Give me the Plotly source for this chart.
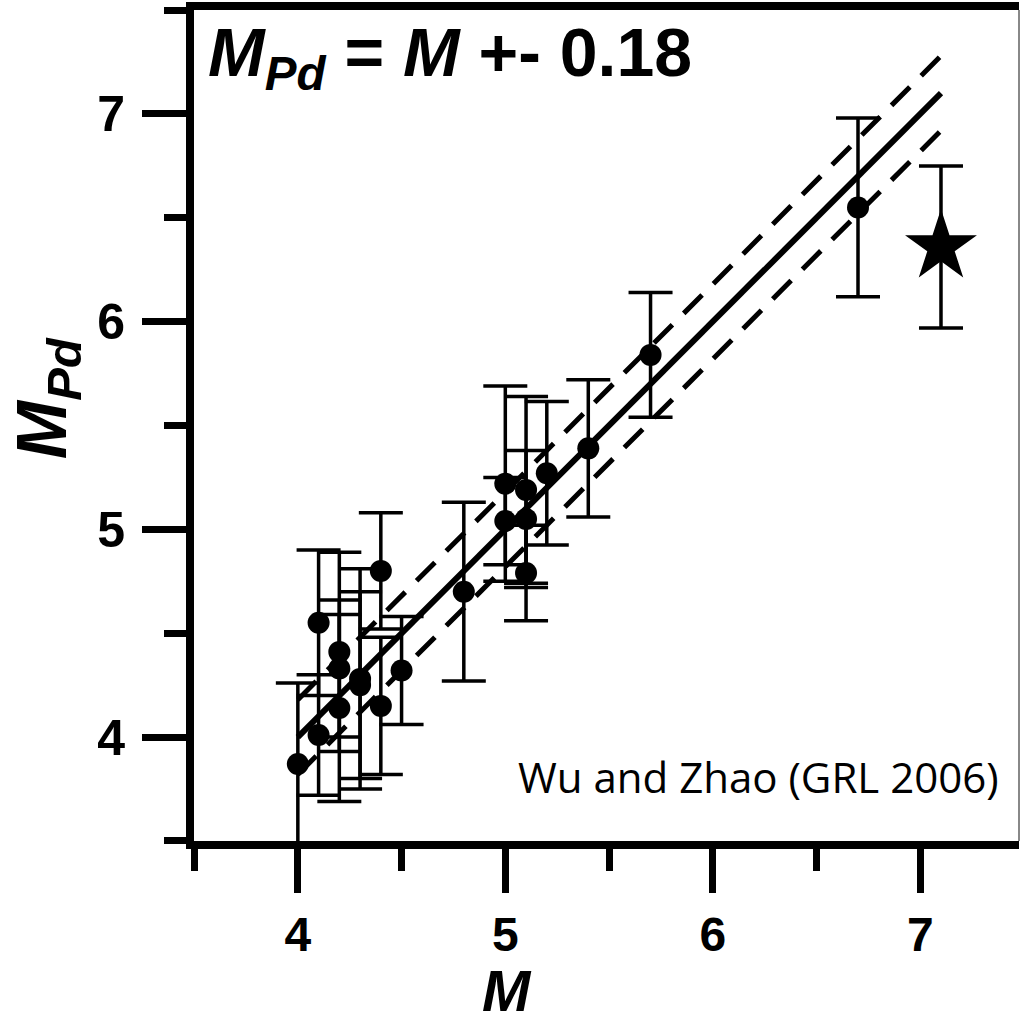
import plotly.graph_objects as go

# ---- data ----
M_obs = [4.0, 4.1, 4.1, 4.2, 4.2, 4.2, 4.3, 4.3, 4.4, 4.4, 4.5, 4.8,
         5.0, 5.0, 5.1, 5.1, 5.1, 5.2, 5.4, 5.7, 6.7]
Mpd_obs = [3.87, 4.55, 4.01, 4.41, 4.33, 4.14, 4.28, 4.25, 4.80, 4.15, 4.32, 4.70,
           5.22, 5.04, 5.19, 5.05, 4.79, 5.27, 5.39, 5.84, 6.55]
Mpd_err = [0.39, 0.35, 0.29, 0.48, 0.33, 0.45, 0.53, 0.45, 0.28, 0.33, 0.26, 0.43,
           0.47, 0.21, 0.45, 0.33, 0.23, 0.345, 0.33, 0.30, 0.43]

star_M = [7.1]
star_Mpd = [6.36]
star_err = [0.39]

line_M = [4.0, 7.1]
line_Mpd = [4.0, 7.1]
line_upper = [4.18, 7.28]
line_lower = [3.82, 6.92]

x_ticks = [4, 5, 6, 7]
y_ticks = [4, 5, 6, 7]

FONT = "Liberation Sans, Arial, sans-serif"

fig = go.Figure()

fig.add_trace(go.Scatter(x=line_M, y=line_Mpd, mode="lines",
                         line=dict(color="black", width=6), showlegend=False))
fig.add_trace(go.Scatter(x=line_M, y=line_upper, mode="lines",
                         line=dict(color="black", width=5, dash="26px,16px"), showlegend=False))
fig.add_trace(go.Scatter(x=line_M, y=line_lower, mode="lines",
                         line=dict(color="black", width=5, dash="26px,16px"), showlegend=False))

fig.add_trace(go.Scatter(
    x=M_obs, y=Mpd_obs, mode="markers",
    marker=dict(symbol="circle", size=22, color="black"),
    error_y=dict(type="data", array=Mpd_err, visible=True, color="black",
                 thickness=3.5, width=22),
    showlegend=False, cliponaxis=True))

fig.add_trace(go.Scatter(
    x=star_M, y=star_Mpd, mode="markers",
    marker=dict(symbol="star", size=54, color="black"),
    error_y=dict(type="data", array=star_err, visible=True, color="black",
                 thickness=3.5, width=22),
    showlegend=False))

axis_common = dict(
    showgrid=False, zeroline=False, showline=True, linecolor="black", linewidth=8,
    ticks="outside", ticklen=44, tickwidth=7, tickcolor="black",
    minor=dict(dtick=0.5, tick0=3.5, ticks="outside", ticklen=22, tickwidth=7,
               tickcolor="black", showgrid=False),
)

fig.update_layout(
    width=1022, height=1022, autosize=False,
    margin=dict(l=194, r=3, t=10, b=181, pad=0),
    plot_bgcolor="white", paper_bgcolor="white",
    xaxis=dict(range=[3.4995, 7.476], tickvals=x_ticks, mirror=True,
               tickfont=dict(family=FONT, size=48, color="black", weight="bold"),
               ticklabelstandoff=0, **axis_common),
    yaxis=dict(range=[3.4995, 7.5005], tickvals=y_ticks, mirror=False,
               tickfont=dict(family=FONT, size=50, color="black", weight="bold"),
               ticklabelstandoff=7, **axis_common),
    showlegend=False,
)

# thin right border
fig.add_shape(type="line", xref="paper", yref="paper", x0=1, x1=1, y0=0, y1=1,
              line=dict(color="#888888", width=2))

# axis titles
fig.add_annotation(text="<b><i>M</i></b>", xref="paper", yref="paper",
                   x=(507 - 194) / 825, y=(841 - 991) / 831, xanchor="center", yanchor="middle",
                   showarrow=False, font=dict(family=FONT, size=58, color="black"))
fig.add_annotation(text="<b><i>M<sub>Pd</sub></i></b>", xref="paper", yref="paper",
                   x=-0.178, y=(841 - 398) / 831, xanchor="center", yanchor="middle", textangle=-90,
                   showarrow=False, font=dict(family=FONT, size=70, color="black"))

# equation label
fig.add_annotation(text="<b><i>M</i><sub><i>Pd</i></sub> = <i>M</i> +- 0.18</b>",
                   xref="paper", yref="paper", x=0.015, y=0.997,
                   xanchor="left", yanchor="top", showarrow=False,
                   font=dict(family=FONT, size=68, color="black"))

# citation
fig.add_annotation(text="Wu and Zhao (GRL 2006)", xref="paper", yref="paper",
                   x=(1001 - 194) / 825, y=(841 - 776) / 831,
                   xanchor="right", yanchor="middle", showarrow=False,
                   font=dict(family="Open Sans, Noto Sans, sans-serif", size=42, color="black"))

fig.write_html("out.html")
